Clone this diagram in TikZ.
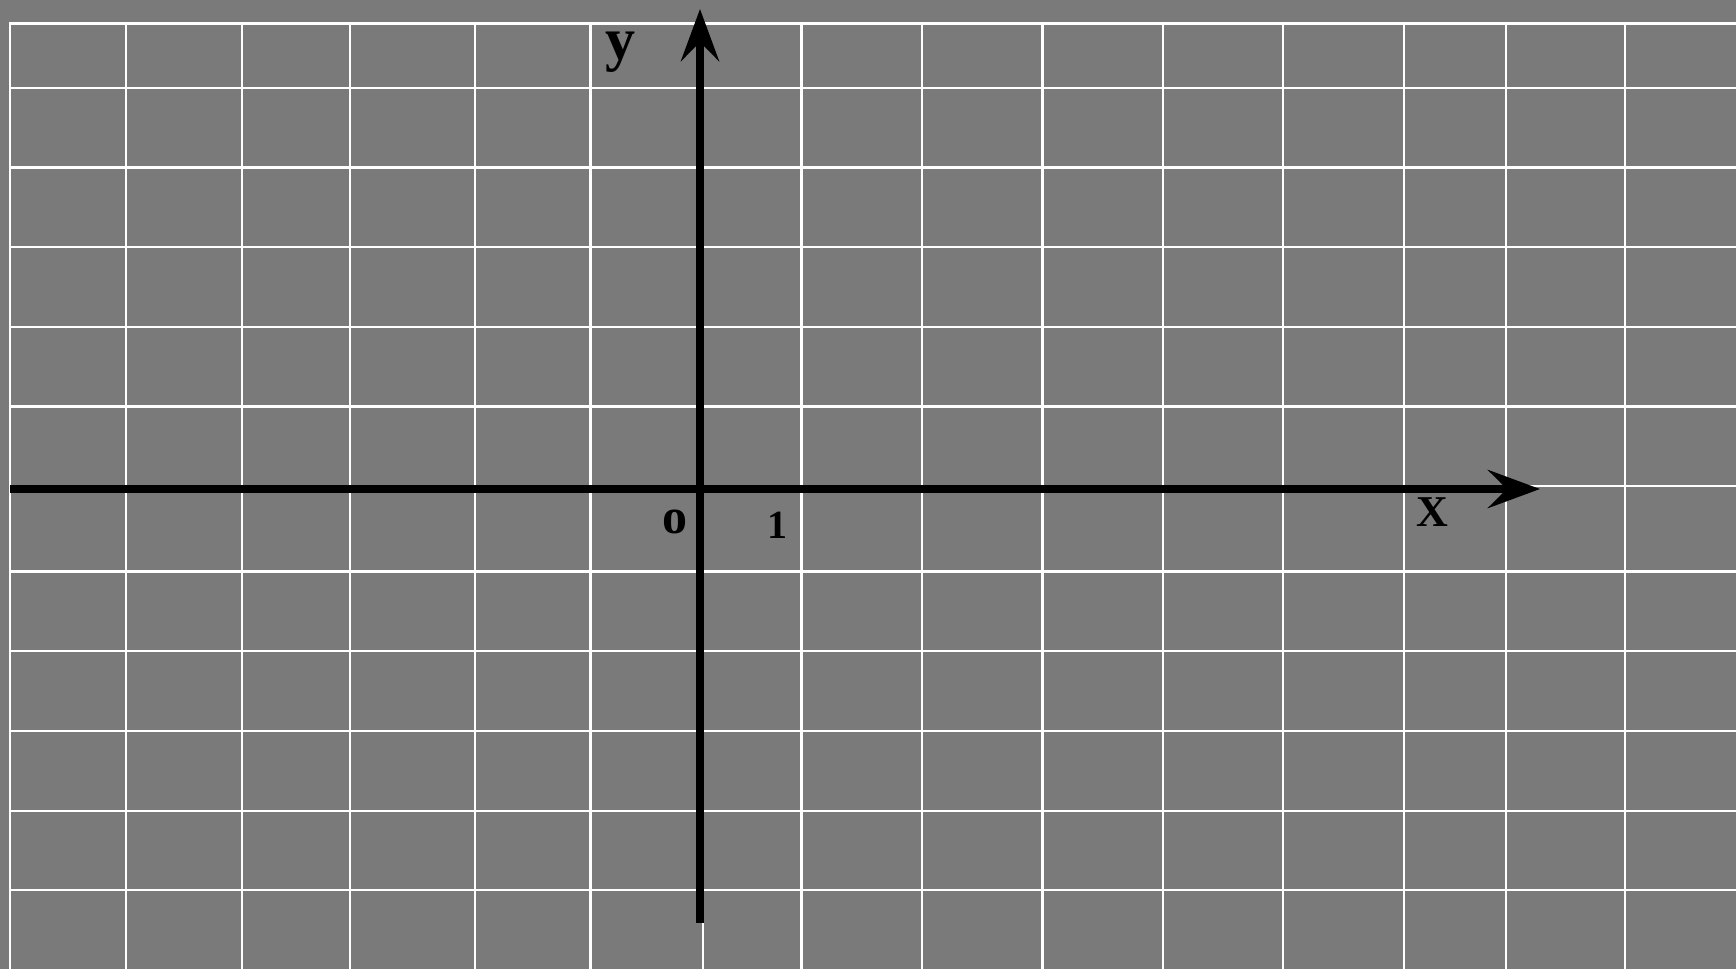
\documentclass[tikz,border=0pt]{standalone}
\usepackage{fontspec}
\setmainfont{Liberation Serif}
\usetikzlibrary{arrows.meta}
\definecolor{board}{RGB}{122,122,122}
\tikzset{
  gridline/.style={draw=white, line width=2.6pt},
  axisline/.style={draw=black, line width=8pt, -{Stealth[length=52pt,width=38pt,inset=19pt]}},
  axlabel/.style={inner sep=0pt, font=\bfseries, text=black}
}
\begin{document}
\begin{tikzpicture}[x=1pt,y=-1pt]
  \fill[board] (0,0) rectangle (1736,969);
  \useasboundingbox (0,0) rectangle (1736,969);
  % grid
  \foreach \gx in {10,126,242,350,475,590.5,703,801.7,922,1042.4,1163,1283,1404,1506,1625}
    \draw[gridline] (\gx,23.5) -- (\gx,969);
  \foreach \gy in {23.5,88,167.5,247,327,406.5,486,571.5,651,731,811,890}
    \draw[gridline] (9,\gy) -- (1736,\gy);
  % axes
  \coordinate (xstart) at (10,489);
  \coordinate (xend) at (1540,489);
  \coordinate (ystart) at (700,923);
  \coordinate (yend) at (700,9);
  \draw[axisline] (xstart) -- (xend);
  \draw[axisline] (ystart) -- (yend);
  % labels
  \node[axlabel, font=\bfseries\fontsize{60}{66}\selectfont] (ylab) at (620,52) {y};
  \node[axlabel, font=\bfseries\fontsize{44}{50}\selectfont] (xlab) at (1432,512.5) {X};
  \node[axlabel, font=\bfseries\fontsize{50}{56}\selectfont] (olab) at (675,522) {o};
  \node[axlabel, font=\bfseries\fontsize{40}{46}\selectfont] (onelab) at (777.5,525) {1};
\end{tikzpicture}
\end{document}
